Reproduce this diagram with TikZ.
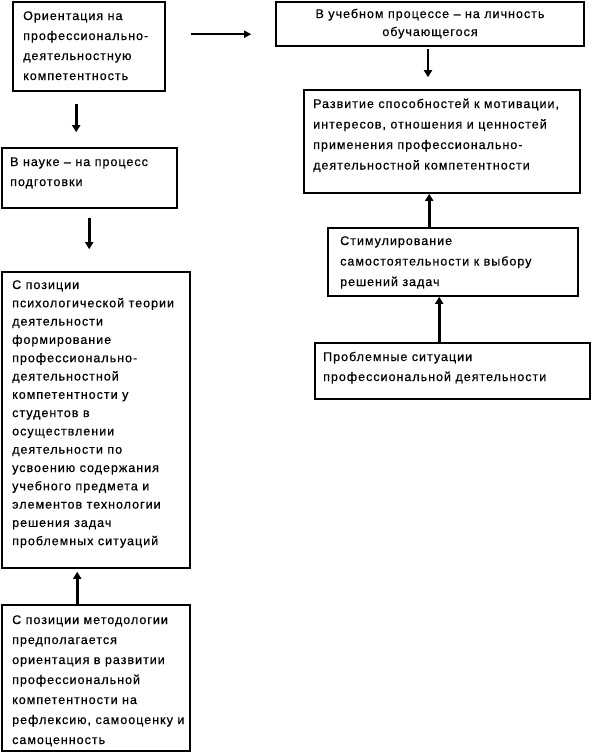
\documentclass[tikz,border=0pt]{standalone}
\usepackage{fontspec}
\setmainfont{Liberation Sans}[LetterSpace=8,FakeBold=0.6]
\usetikzlibrary{arrows.meta,calc}
\begin{document}
\begin{tikzpicture}[x=1pt,y=-1pt,
  box/.style={draw=black,line width=1.6pt,rectangle,inner sep=0pt},
  txt/.style={anchor=base west,inner sep=0pt},
  arr/.style={line width=2.6pt,-{Triangle[length=7pt,width=8pt]}},
  harr/.style={line width=1.6pt,-{Triangle[length=7pt,width=7pt]}}]
\useasboundingbox (0,0) rectangle (594,756);
% boxes
\node[box,minimum width=152pt,minimum height=89pt] (b1) at (89,46.5) {};
\node[box,minimum width=308pt,minimum height=44pt] (b2) at (430,24) {};
\node[box,minimum width=276pt,minimum height=103pt] (b3) at (442,141.5) {};
\node[box,minimum width=250pt,minimum height=68pt] (b4) at (453,262) {};
\node[box,minimum width=275pt,minimum height=56pt] (b5) at (452.5,371) {};
\node[box,minimum width=175pt,minimum height=60pt] (b6) at (89.5,178) {};
\node[box,minimum width=188pt,minimum height=296pt] (b7) at (96,420) {};
\node[box,minimum width=188pt,minimum height=146pt] (b8) at (96,678) {};
% texts
\node[txt] (t1) at (23,20) {\fontsize{12.5}{20}\selectfont\parbox[t]{150pt}{\raggedright
Ориентация на\\профессионально-\\деятельностную\\компетентность}};
\node[anchor=base,inner sep=0pt] (t2) at (430,18) {\fontsize{12.5}{18}\selectfont\parbox[t]{300pt}{\centering
В учебном процессе – на личность\\обучающегося}};
\node[txt] (t3) at (313,108) {\fontsize{12.5}{20.5}\selectfont\parbox[t]{270pt}{\raggedright
Развитие способностей к мотивации,\\интересов, отношения и ценностей\\применения профессионально-\\деятельностной компетентности}};
\node[txt] (t4) at (340,245) {\fontsize{12.5}{20.5}\selectfont\parbox[t]{240pt}{\raggedright
Стимулирование\\самостоятельности к выбору\\решений задач}};
\node[txt] (t5) at (323,361) {\fontsize{12.5}{20}\selectfont\parbox[t]{270pt}{\raggedright
Проблемные ситуации\\профессиональной деятельности}};
\node[txt] (t6) at (10,166) {\fontsize{12.5}{20}\selectfont\parbox[t]{170pt}{\raggedright
В науке – на процесс\\подготовки}};
\node[txt] (t7) at (12,289) {\fontsize{12.5}{18.3}\selectfont\parbox[t]{185pt}{\raggedright
С позиции\\психологической теории\\деятельности\\формирование\\профессионально-\\деятельностной\\компетентности у\\студентов в\\осуществлении\\деятельности по\\усвоению содержания\\учебного предмета и\\элементов технологии\\решения задач\\проблемных ситуаций}};
\node[txt] (t8) at (12,624) {\fontsize{12.5}{20}\selectfont\parbox[t]{185pt}{\raggedright
С позиции методологии\\предполагается\\ориентация в развитии\\профессиональной\\компетентности на\\рефлексию, самооценку и\\самоценность}};
% connectors
\coordinate (a1) at ($(b1.north east)+(25,33)$);
\coordinate (a2) at (a1 -| b2.west);
\draw[harr,shorten >=24pt] (a1) -- (a2);
\coordinate (c1) at ($(b2.south)+(-2,2)$);
\draw[arr,shorten >=12pt] (c1) -- (c1 |- b3.north);
\coordinate (c2) at ($(b4.north west)+(102,0)$);
\draw[arr] (c2) -- (c2 |- b3.south);
\coordinate (c3) at ($(b5.north west)+(125,0)$);
\draw[arr] (c3) -- (c3 |- b4.south);
\coordinate (c4) at ($(b1.south west)+(64,12)$);
\draw[arr,shorten >=15pt] (c4) -- (c4 |- b6.north);
\coordinate (c5) at ($(b6.south west)+(88,9)$);
\draw[arr,shorten >=22pt] (c5) -- (c5 |- b7.north);
\coordinate (c6) at ($(b8.north west)+(76,0)$);
\draw[arr,shorten >=3pt] (c6) -- (c6 |- b7.south);
\end{tikzpicture}
\end{document}
